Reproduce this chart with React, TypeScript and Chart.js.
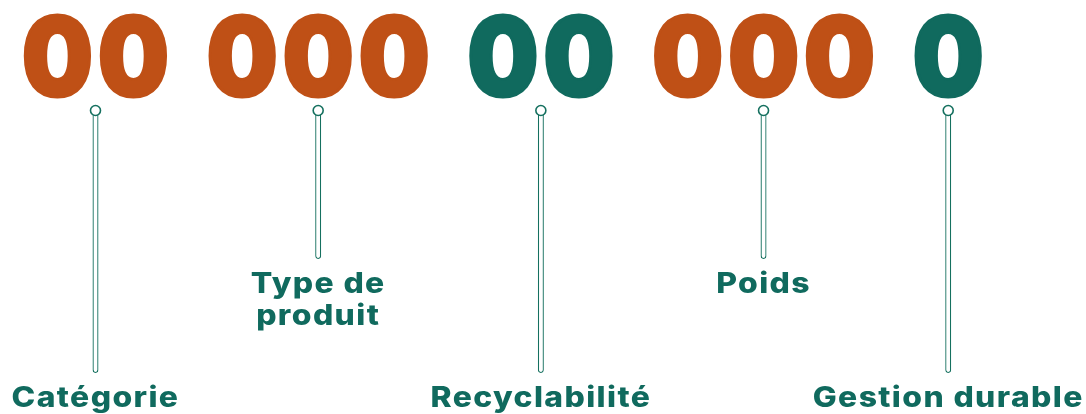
import React, { useEffect, useRef } from "react";
import { Chart, registerables } from "chart.js";

Chart.register(...registerables);

// ---- Data ----
const codeGroups: string[] = ["00", "000", "00", "000", "0"];
const groupTone: string[] = ["accent", "accent", "primary", "accent", "primary"];
const fieldLabels: string[][] = [
  ["Catégorie"],
  ["Type de", "produit"],
  ["Recyclabilité"],
  ["Poids"],
  ["Gestion durable"],
];
const labelTier: number[] = [2, 1, 2, 1, 2];

// ---- Style / layout ----
const palette: Record<string, string> = { accent: "#BF5016", primary: "#106A5E" };
const STEM_COLOR = "#15705F";
const LABEL_COLOR = "#106A5E";
const GROUP_GAP = 0.43; // extra space between groups, in digit units
const DIGIT_BASELINE = 96;
const DIGIT_STROKE = 3;
const DIGIT_INK_H = 84 - DIGIT_STROKE;
const DIGIT_INK_W = 69 - DIGIT_STROKE;
const PIN_Y = 110.5;
const tierEnd: Record<number, number> = { 1: 259, 2: 373 };
const LABEL_OFFSET = 33.5;
const LINE_HEIGHT = 32;
const LABEL_STRETCH = 1.14;

// derived slot positions for each digit and centre of each group
const digitSlots: { slot: number; group: number; ch: string }[] = [];
const groupCenters: number[] = [];
{
  let s = 0;
  codeGroups.forEach((g, gi) => {
    const start = s;
    for (const ch of g) {
      digitSlots.push({ slot: s, group: gi, ch });
      s += 1;
    }
    groupCenters.push((start + s - 1) / 2);
    s += GROUP_GAP;
  });
}

const overlay = {
  id: "codeOverlay",
  afterDatasetsDraw(chart: any) {
    const { ctx, scales } = chart;
    const xs = scales.x;
    const ys = scales.y;
    ctx.save();
    // digits
    const family = "Inter, 'Open Sans', sans-serif";
    ctx.font = `900 100px ${family}`;
    let m = ctx.measureText("0");
    const size = (100 * DIGIT_INK_H) / m.actualBoundingBoxAscent;
    ctx.font = `900 ${size}px ${family}`;
    m = ctx.measureText("0");
    const inkW = m.actualBoundingBoxLeft + m.actualBoundingBoxRight;
    const sx = DIGIT_INK_W / inkW;
    ctx.textAlign = "center";
    ctx.textBaseline = "alphabetic";
    ctx.lineJoin = "round";
    digitSlots.forEach((d) => {
      ctx.save();
      ctx.translate(xs.getPixelForValue(d.slot), ys.getPixelForValue(DIGIT_BASELINE));
      ctx.scale(sx, 1);
      const col = palette[groupTone[d.group]];
      ctx.fillStyle = col;
      ctx.strokeStyle = col;
      ctx.lineWidth = DIGIT_STROKE;
      ctx.fillText(d.ch, 0, 0);
      ctx.strokeText(d.ch, 0, 0);
      ctx.restore();
    });
    // labels
    ctx.font = `800 28px ${family}`;
    try {
      (ctx as any).letterSpacing = "1.2px";
    } catch (e) {}
    ctx.fillStyle = LABEL_COLOR;
    fieldLabels.forEach((lines, i) => {
      const px = xs.getPixelForValue(groupCenters[i]);
      const base = tierEnd[labelTier[i]] + LABEL_OFFSET;
      lines.forEach((line, li) => {
        ctx.save();
        ctx.translate(px, ys.getPixelForValue(base + li * LINE_HEIGHT));
        ctx.scale(LABEL_STRETCH, 1);
        ctx.fillText(line, 0, 0);
        ctx.restore();
      });
    });
    ctx.restore();
  },
};

export default function App() {
  const ref = useRef<HTMLCanvasElement | null>(null);
  useEffect(() => {
    if (!ref.current) return;
    const chart = new Chart(ref.current, {
      type: "bar",
      data: {
        datasets: [
          {
            type: "scatter",
            data: groupCenters.map((c) => ({ x: c, y: PIN_Y })),
            pointRadius: 5,
            pointBorderWidth: 1.6,
            pointBackgroundColor: "#ffffff",
            pointBorderColor: STEM_COLOR,
            order: 0,
          } as any,
          {
            type: "bar",
            data: groupCenters.map((c, i) => ({ x: c, y: [PIN_Y, tierEnd[labelTier[i]]] })),
            barThickness: 6,
            backgroundColor: "#ffffff",
            borderColor: STEM_COLOR,
            borderWidth: 1.3,
            borderSkipped: false,
            borderRadius: 3,
            inflateAmount: 0,
            order: 1,
          } as any,
        ],
      },
      options: {
        animation: false,
        responsive: false,
        maintainAspectRatio: false,
        events: [],
        layout: { padding: 0, autoPadding: false },
        plugins: { legend: { display: false }, tooltip: { enabled: false } },
        scales: {
          x: { type: "linear", min: -0.7566, max: 13.533, offset: false, display: false },
          y: { type: "linear", min: 0, max: 414, reverse: true, display: false },
        },
      },
      plugins: [overlay],
    });
    return () => chart.destroy();
  }, []);
  return (
    <div style={{ position: "absolute", left: 0, top: 0, width: 1086, height: 414, background: "#fff" }}>
      <canvas ref={ref} width={1086} height={414} />
    </div>
  );
}
